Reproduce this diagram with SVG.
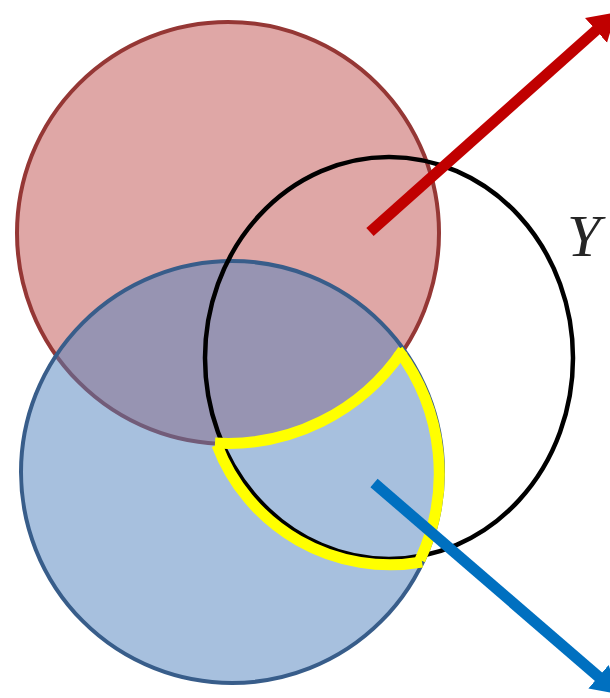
<svg xmlns="http://www.w3.org/2000/svg" width="610" height="698" viewBox="0 0 610 698">
  <style>
    .set { stroke-width: 4; }
    .yel { fill: none; stroke: #FFFF00; stroke-width: 11; stroke-linecap: butt; }
    .arrow { fill: none; stroke-width: 11; stroke-linecap: butt; }
    .lbl { font-family: "Liberation Serif", "DejaVu Serif", serif; font-style: italic; font-size: 60px; fill: #262626; }
  </style>
  <defs>
    <marker id="headRed" markerUnits="userSpaceOnUse" markerWidth="30" markerHeight="36" viewBox="0 0 30 36" refX="2" refY="18" orient="auto">
      <path d="M0,1.5 L27,18 L0,34.5 z" fill="#C00000"/>
    </marker>
    <marker id="headBlue" markerUnits="userSpaceOnUse" markerWidth="30" markerHeight="36" viewBox="0 0 30 36" refX="2" refY="18" orient="auto">
      <path d="M0,2.5 L27,18 L0,33.5 z" fill="#0070C0"/>
    </marker>
  </defs>
  <rect width="610" height="698" fill="#FFFFFF"/>
  <g id="set-red">
    <circle class="set" cx="228" cy="233" r="211" fill="#C0504D" fill-opacity="0.5" stroke="#953735"/>
  </g>
  <g id="set-blue">
    <circle cx="232" cy="472" r="211" fill="#4F81BD" fill-opacity="0.5"/>
    <circle class="set" cx="232" cy="472" r="211" fill="none" stroke="#385D8A"/>
  </g>
  <g id="set-Y">
    <ellipse cx="389" cy="358" rx="184" ry="201" fill="none" stroke="#000000" stroke-width="4.5"/>
    <text class="lbl" x="567" y="256">Y</text>
  </g>
  <g id="region">
    <path class="yel" d="M215,443 A211,211 0 0 0 403,350"/>
    <path class="yel" d="M398,350 A205,205 0 0 1 420,560"/>
    <path class="yel" d="M217,445 A185,185 0 0 0 422,562"/>
  </g>
  <g id="connectors">
    <path class="arrow" stroke="#C00000" d="M370,232 L597.5,29" marker-end="url(#headRed)"/>
    <path class="arrow" stroke="#0070C0" d="M374,483 L600,678" marker-end="url(#headBlue)"/>
  </g>
</svg>
